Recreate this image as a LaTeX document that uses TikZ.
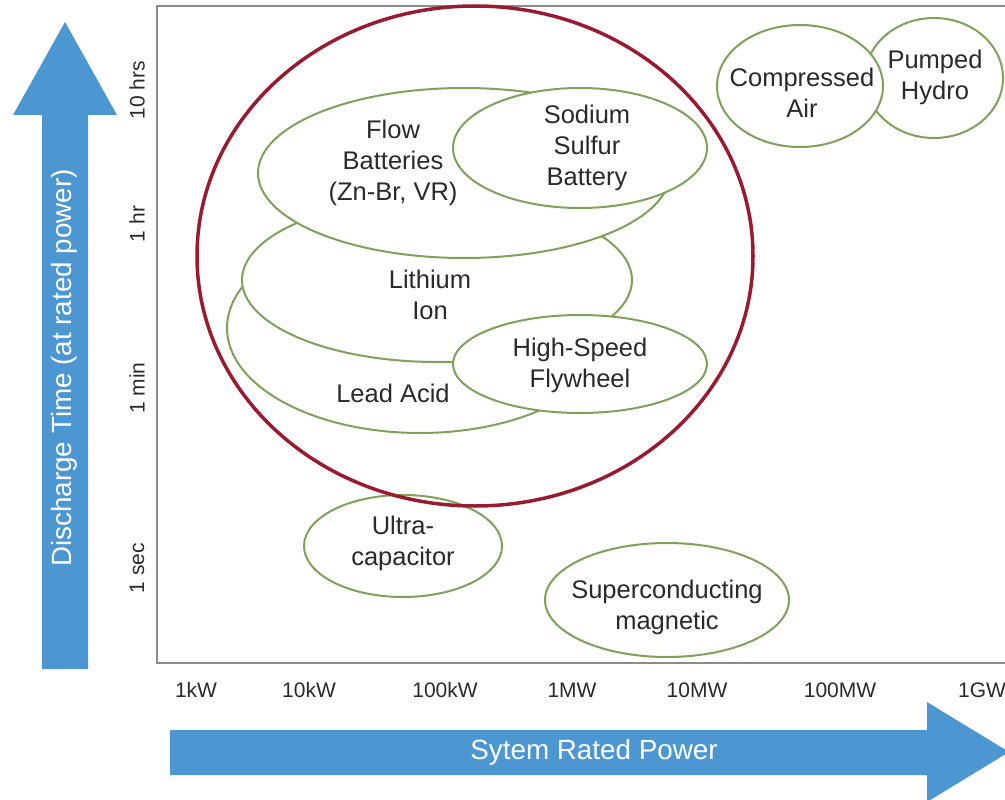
\documentclass[tikz,border=0pt]{standalone}
\usepackage{fontspec}
\setmainfont{Liberation Sans}
\usetikzlibrary{shapes.geometric}
\definecolor{grn}{HTML}{7DA35A}
\definecolor{rd}{HTML}{9A1B2F}
\definecolor{blu}{HTML}{4C96D2}
\definecolor{frm}{HTML}{8C8C8C}
\definecolor{txt}{HTML}{2A2A2A}
\begin{document}
\begin{tikzpicture}[x=1pt,y=-1pt,
  tech/.style={ellipse, draw=grn, line width=2pt, fill=white, inner sep=0pt},
  lab/.style={text=txt, font=\fontsize{25.5}{31}\selectfont, align=center, inner sep=0pt},
  tickl/.style={text=txt, font=\fontsize{21}{24}\selectfont, inner sep=0pt},
  axlab/.style={text=white, font=\fontsize{27.8}{32}\selectfont, inner sep=0pt},
  bluearrow/.style={fill=blu, draw=none},
  framel/.style={draw=frm, line width=2.5pt}]
\useasboundingbox (0,0) rectangle (1005,800);
% frame
\coordinate (ftl) at (157,6);
\coordinate (ftr) at (1005,6);
\coordinate (fbl) at (157,663);
\coordinate (fbr) at (1005,663);
\draw[framel] (ftr) -- (ftl) -- (fbl) -- (fbr);
% technologies
\node[tech, minimum width=386pt, minimum height=210pt] (lead) at (420,328) {};
\node[tech, minimum width=390pt, minimum height=164pt] (lith) at (437,280) {};
\node[tech, minimum width=412pt, minimum height=170pt] (flow) at (464,173) {};
\node[tech, minimum width=254pt, minimum height=120pt] (sod) at (580,148) {};
\node[tech, minimum width=254pt, minimum height=98pt] (fly) at (580,364) {};
\node[tech, minimum width=138pt, minimum height=120pt] (pump) at (934,78) {};
\node[tech, minimum width=166pt, minimum height=122pt] (comp) at (800,86) {};
\node[tech, minimum width=198pt, minimum height=102pt] (ultra) at (403,546) {};
\node[tech, minimum width=244pt, minimum height=114pt] (supc) at (667,600) {};
% big red circle
\node[ellipse, draw=rd, line width=3.5pt, inner sep=0pt, minimum width=556pt, minimum height=500pt] (big) at (475,256) {};
% labels
\node[lab] (flowt) at (393,163) {Flow\\Batteries\\(Zn-Br, VR)};
\node[lab] (sodt) at (587,148) {Sodium\\Sulfur\\Battery};
\node[lab] (litht) at (430,295) {Lithium\\Ion};
\node[lab] (leadt) at (393,393) {Lead Acid};
\node[lab] (flyt) at (580,365) {High-Speed\\Flywheel};
\node[lab] (compt) at (802,93) {Compressed\\Air};
\node[lab] (pumpt) at (935,77) {Pumped\\Hydro};
\node[lab] (ultrat) at (403,543) {Ultra-\\capacitor};
\node[lab] (supct) at (667,607) {Superconducting\\magnetic};
% x ticks
\node[tickl] (x1) at (196,690) {1kW};
\node[tickl] (x2) at (309,690) {10kW};
\node[tickl] (x3) at (445,690) {100kW};
\node[tickl] (x4) at (572,690) {1MW};
\node[tickl] (x5) at (697,690) {10MW};
\node[tickl] (x6) at (840,690) {100MW};
\node[tickl] (x7) at (982,690) {1GW};
% y ticks
\node[tickl, rotate=90] (y1) at (137,90) {10 hrs};
\node[tickl, rotate=90] (y2) at (137,224) {1 hr};
\node[tickl, rotate=90] (y3) at (137,388) {1 min};
\node[tickl, rotate=90] (y4) at (137,568) {1 sec};
% vertical arrow
\fill[bluearrow] (42,669) -- (42,115) -- (13,115) -- (65,22) -- (117,115) -- (88,115) -- (88,669) -- cycle;
\node[axlab, rotate=90] (ylab) at (64,368) {Discharge Time (at rated power)};
% horizontal arrow
\fill[bluearrow] (170,730) -- (927,730) -- (927,702) -- (1009,752) -- (927,802) -- (927,775) -- (170,775) -- cycle;
\node[axlab] (xlab) at (594,752) {Sytem Rated Power};
\end{tikzpicture}
\end{document}
